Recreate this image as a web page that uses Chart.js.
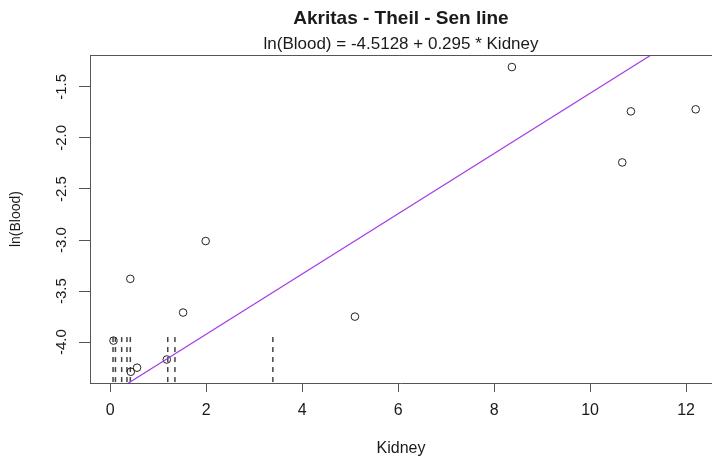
<!DOCTYPE html>
<html>
<head>
<meta charset="utf-8">
<script src="https://cdn.jsdelivr.net/npm/chart.js@4.4.1/dist/chart.umd.min.js"></script>
<style>
  html, body { margin: 0; padding: 0; background: #fff; }
</style>
</head>
<body>
<canvas id="chart" width="712" height="458"></canvas>
<script>
// detected observations (Kidney, ln(Blood))
const kidney = [0.07, 0.42, 0.43, 0.56, 1.18, 1.52, 1.99, 5.10, 8.37, 10.67, 10.85, 12.20]
const lnBlood = [-3.985, -3.38, -4.29, -4.25, -4.17, -3.71, -3.01, -3.75, -1.306, -2.24, -1.74, -1.72]

// censored observations (below detection limit) drawn as dashed lines
const censoredKidney = [0.06, 0.11, 0.24, 0.35, 0.42, 1.20, 1.35, 3.39]
const censorLimit = -3.95

// Akritas - Theil - Sen fit
const intercept = -4.5128
const slope = 0.295

const xTicks = [0, 2, 4, 6, 8, 10, 12]
const yTicks = [-4.0, -3.5, -3.0, -2.5, -2.0, -1.5]
const xMin = -0.42
const xMax = 12.54
const yMin = -4.40
const yMax = -1.19

const axisColor = "#555"
const textColor = "#1a1a1a"

Chart.defaults.font.family = "'Liberation Sans', Arial, sans-serif"
Chart.defaults.color = textColor

// y tick labels are rotated like in R, so draw them ourselves
const rotatedYTicks = {
  id: "rotatedYTicks",
  afterDraw(chart) {
    const ctx = chart.ctx
    const y = chart.scales.y
    const area = chart.chartArea
    ctx.save()
    // top edge of the plot box
    ctx.strokeStyle = axisColor
    ctx.lineWidth = 1
    ctx.beginPath()
    ctx.moveTo(area.left, Math.round(area.top) + 0.5)
    ctx.lineTo(chart.width, Math.round(area.top) + 0.5)
    ctx.stroke()

    ctx.fillStyle = textColor
    ctx.font = "15px 'Liberation Sans', Arial, sans-serif"
    ctx.textAlign = "center"
    ctx.textBaseline = "middle"
    y.ticks.forEach((t) => {
      const py = y.getPixelForValue(t.value)
      ctx.save()
      ctx.translate(62, py)
      ctx.rotate(-Math.PI / 2)
      ctx.fillText(t.value.toFixed(1), 0, 0)
      ctx.restore()
    })
    ctx.restore()
  },
}

const datasets = []

// fitted line (drawn on top)
datasets.push({
  label: "fit",
  data: [
    { x: xMin, y: intercept + slope * xMin },
    { x: xMax, y: intercept + slope * xMax },
  ],
  showLine: true,
  borderColor: "#a53ae6",
  borderWidth: 1.2,
  pointRadius: 0,
})

datasets.push({
  label: "detected",
  data: kidney.map((x, i) => ({ x: x, y: lnBlood[i] })),
  showLine: false,
  pointStyle: "circle",
  pointRadius: 3.8,
  borderColor: "#222",
  backgroundColor: "rgba(0,0,0,0)",
  borderWidth: 1,
})

censoredKidney.forEach((x) => {
  datasets.push({
    label: "censored",
    data: [
      { x: x, y: censorLimit },
      { x: x, y: yMin },
    ],
    showLine: true,
    borderColor: "#444",
    borderWidth: 1.5,
    borderDash: [5, 5],
    pointRadius: 0,
  })
})

new Chart(document.getElementById("chart").getContext("2d"), {
  type: "scatter",
  data: { datasets: datasets },
  options: {
    responsive: false,
    animation: false,
    layout: { padding: 0, autoPadding: false },
    plugins: {
      legend: { display: false },
      tooltip: { enabled: false },
      title: {
        display: true,
        text: "Akritas - Theil - Sen line",
        fullSize: false,
        color: textColor,
        font: { size: 19, weight: "bold" },
        padding: { top: 7, bottom: 0 },
      },
      subtitle: {
        display: true,
        text: "ln(Blood) = -4.5128 + 0.295 * Kidney",
        fullSize: false,
        color: textColor,
        font: { size: 17, weight: "normal" },
        padding: { top: 4, bottom: 1 },
      },
    },
    scales: {
      x: {
        type: "linear",
        min: xMin,
        max: xMax,
        afterBuildTicks: (s) => {
          s.ticks = xTicks.map((v) => ({ value: v }))
        },
        afterFit: (s) => {
          s.height = 75
          s.paddingLeft = 0
          s.paddingRight = 0
        },
        grid: { drawOnChartArea: false, drawTicks: true, tickLength: 9, color: axisColor },
        border: { display: true, color: axisColor, width: 1 },
        ticks: { color: textColor, font: { size: 16 }, padding: 9, maxRotation: 0, autoSkip: false },
        title: {
          display: true,
          text: "Kidney",
          color: textColor,
          font: { size: 16 },
          padding: { top: 0, bottom: 0 },
        },
      },
      y: {
        type: "linear",
        min: yMin,
        max: yMax,
        afterBuildTicks: (s) => {
          s.ticks = yTicks.map((v) => ({ value: v }))
        },
        afterFit: (s) => {
          s.width = 90
          s.paddingTop = 0
          s.paddingBottom = 0
        },
        grid: { drawOnChartArea: false, drawTicks: true, tickLength: 11, color: axisColor },
        border: { display: true, color: axisColor, width: 1 },
        ticks: { display: false },
        title: {
          display: true,
          text: "ln(Blood)",
          color: textColor,
          font: { size: 14 },
          padding: { top: 8, bottom: 0 },
        },
      },
    },
  },
  plugins: [rotatedYTicks],
})
</script>
</body>
</html>
